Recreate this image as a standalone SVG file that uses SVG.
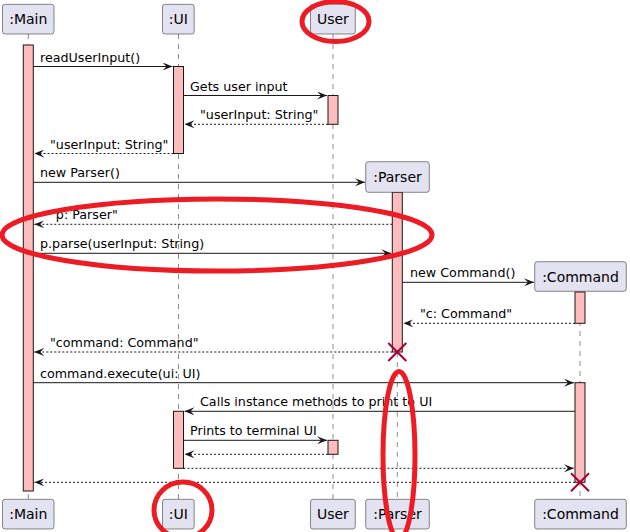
<svg xmlns="http://www.w3.org/2000/svg" width="630" height="532" viewBox="0 0 630 532">
<defs>
<style>
.box{fill:#E2E2F0;stroke:#181818;stroke-width:0.5}
.pt{font-family:"DejaVu Sans",Verdana,sans-serif;font-size:14px;fill:#000;text-anchor:middle}
.mt{font-family:"DejaVu Sans",Verdana,sans-serif;font-size:12.7px;fill:#000}
.life{stroke:#181818;stroke-width:0.5;stroke-dasharray:5,5;fill:none}
.act{fill:#FFBCBC;stroke:#181818;stroke-width:1}
.msg{stroke:#181818;stroke-width:1;fill:none;marker-end:url(#ah)}
.ret{stroke:#181818;stroke-width:1;fill:none;stroke-dasharray:2,2;marker-end:url(#ah)}
.x{stroke:#A80036;stroke-width:2}
.red{fill:none;stroke:#ED1C24;stroke-width:5}
</style>
<marker id="ah" viewBox="0 0 10 8" refX="10" refY="4" markerWidth="10" markerHeight="8" markerUnits="userSpaceOnUse" orient="auto">
<path d="M0,0 L10,4 L0,8 L4,4 Z" fill="#181818" stroke="none"/>
</marker>
</defs>
<g id="lifelines">
<line class="life" x1="28.3" y1="34" x2="28.3" y2="499"/>
<line class="life" x1="178.5" y1="34" x2="178.5" y2="499"/>
<line class="life" x1="333" y1="34" x2="333" y2="499"/>
<line class="life" x1="397.3" y1="192" x2="397.3" y2="499"/>
<line class="life" x1="580" y1="291" x2="580" y2="499"/>
</g>
<g id="activations">
<rect class="act" x="23.3" y="45" width="10" height="446"/>
<rect class="act" x="173.5" y="66.5" width="10" height="87"/>
<rect class="act" x="328" y="95.5" width="10" height="28.8"/>
<rect class="act" x="392.3" y="192.3" width="10" height="159.7"/>
<rect class="act" x="575" y="292" width="10" height="31.3"/>
<rect class="act" x="575" y="382.7" width="10" height="99.6"/>
<rect class="act" x="173.5" y="411.3" width="10" height="57"/>
<rect class="act" x="328" y="440.3" width="10" height="14"/>
</g>
<g id="connectors">
<line class="msg" x1="33.3" y1="66.5" x2="172.5" y2="66.5"/>
<text class="mt" x="40" y="61.5">readUserInput()</text>
<line class="msg" x1="183.5" y1="95.5" x2="327" y2="95.5"/>
<text class="mt" x="190" y="90.5">Gets user input</text>
<line class="ret" x1="328" y1="124.3" x2="184.5" y2="124.3"/>
<text class="mt" x="200" y="119.3">"userInput: String"</text>
<line class="ret" x1="173.5" y1="153.5" x2="34.3" y2="153.5"/>
<text class="mt" x="50" y="148.5">"userInput: String"</text>
<line class="msg" x1="33.3" y1="182.3" x2="365" y2="182.3"/>
<text class="mt" x="40" y="177.3">new Parser()</text>
<line class="ret" x1="392.3" y1="224.3" x2="34.3" y2="224.3"/>
<text class="mt" x="50" y="219.3">"p: Parser"</text>
<line class="msg" x1="33.3" y1="253.3" x2="391.3" y2="253.3"/>
<text class="mt" x="40" y="248.3">p.parse(userInput: String)</text>
<line class="msg" x1="402.3" y1="282.3" x2="534" y2="282.3"/>
<text class="mt" x="410" y="277.3">new Command()</text>
<line class="ret" x1="575" y1="323.3" x2="403.3" y2="323.3"/>
<text class="mt" x="420" y="318.3">"c: Command"</text>
<line class="ret" x1="392.3" y1="352" x2="34.3" y2="352"/>
<text class="mt" x="50" y="347">"command: Command"</text>
<line class="msg" x1="33.3" y1="382.7" x2="574" y2="382.7"/>
<text class="mt" x="40" y="377.7">command.execute(ui: UI)</text>
<line class="msg" x1="575" y1="411.3" x2="184.5" y2="411.3"/>
<text class="mt" x="200" y="406.3">Calls instance methods to print to UI</text>
<line class="msg" x1="183.5" y1="440.3" x2="327" y2="440.3"/>
<text class="mt" x="190" y="435.3">Prints to terminal UI</text>
<line class="ret" x1="328" y1="454.3" x2="184.5" y2="454.3"/>
<line class="ret" x1="183.5" y1="468.3" x2="574" y2="468.3"/>
<line class="ret" x1="575" y1="482.3" x2="34.3" y2="482.3"/>
</g>
<g id="main">
<rect class="box" x="2.5" y="4.3" width="51.5" height="29.7" rx="2.5"/>
<text class="pt" x="28.3" y="24">:Main</text>
<rect class="box" x="2.5" y="499.3" width="51.5" height="29.7" rx="2.5"/>
<text class="pt" x="28.3" y="519">:Main</text>
</g>
<g id="ui">
<rect class="box" x="162.5" y="4.3" width="31.7" height="29.7" rx="2.5"/>
<text class="pt" x="178.4" y="24">:UI</text>
<rect class="box" x="162.5" y="499.3" width="31.7" height="29.7" rx="2.5"/>
<text class="pt" x="178.4" y="519">:UI</text>
</g>
<g id="user">
<rect class="box" x="310.5" y="4.3" width="44.8" height="29.7" rx="2.5"/>
<text class="pt" x="332.9" y="24">User</text>
<rect class="box" x="310.5" y="499.3" width="44.8" height="29.7" rx="2.5"/>
<text class="pt" x="332.9" y="519">User</text>
</g>
<g id="parser">
<rect class="box" x="365.7" y="161.7" width="63.6" height="30.6" rx="2.5"/>
<text class="pt" x="397.5" y="182">:Parser</text>
<rect class="box" x="365.7" y="499.3" width="63.6" height="29.7" rx="2.5"/>
<text class="pt" x="397.5" y="519">:Parser</text>
<line class="x" x1="388.3" y1="343" x2="406.3" y2="361"/>
<line class="x" x1="406.3" y1="343" x2="388.3" y2="361"/>
</g>
<g id="command">
<rect class="box" x="534.7" y="261.7" width="91.6" height="29.6" rx="2.5"/>
<text class="pt" x="580.5" y="282">:Command</text>
<rect class="box" x="534.7" y="499.3" width="91.6" height="29.7" rx="2.5"/>
<text class="pt" x="580.5" y="519">:Command</text>
<line class="x" x1="571" y1="473.3" x2="589" y2="491.3"/>
<line class="x" x1="589" y1="473.3" x2="571" y2="491.3"/>
</g>
<g id="annotations">
<ellipse class="red" cx="335.5" cy="21.5" rx="33.5" ry="20"/>
<ellipse class="red" cx="217" cy="235" rx="215" ry="36"/>
<ellipse class="red" cx="399" cy="455.5" rx="16" ry="84"/>
<ellipse class="red" cx="183" cy="510" rx="29" ry="28"/>
</g>
</svg>
